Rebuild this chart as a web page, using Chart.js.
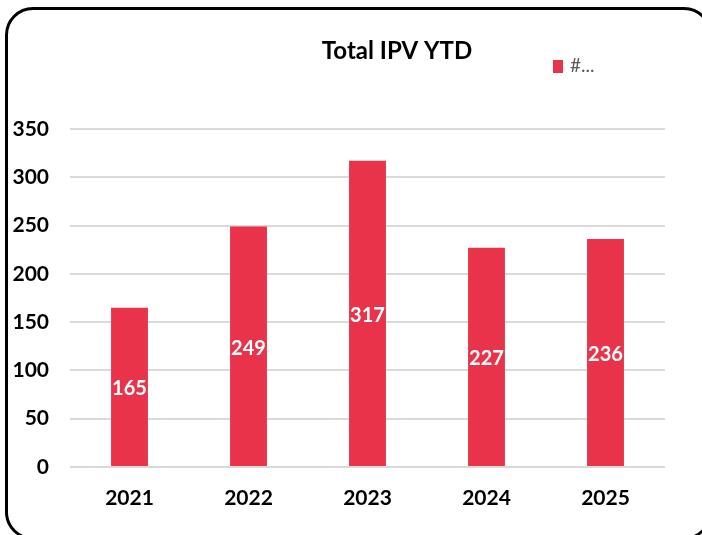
<!DOCTYPE html>
<html>
<head>
<meta charset="utf-8">
<script src="https://cdn.jsdelivr.net/npm/chart.js@4"></script>
<style>
  html, body { margin: 0; padding: 0; background: #fff; }
  #wrap { position: relative; width: 702px; height: 535px; overflow: hidden; }
  #chart { position: absolute; left: 0; top: 0; }
  #frame {
    position: absolute; left: 5px; top: 7px; width: 701px; height: 527px;
    border: 3px solid #000; border-radius: 28px; pointer-events: none;
  }
</style>
</head>
<body>
<div id="wrap">
  <canvas id="chart" width="702" height="535"></canvas>
  <div id="frame"></div>
</div>
<script>
// chart data
const years = ['2021', '2022', '2023', '2024', '2025'];
const ipvCounts = [165, 249, 317, 227, 236];
const yTicks = [0, 50, 100, 150, 200, 250, 300, 350];
const chartTitle = 'Total IPV YTD';
const seriesName = '#...';

const barColor = '#E8334A';
const fontName = 'Lato, "Open Sans", sans-serif';

//draws title, legend and the value labels inside bars
const decorations = {
    id: 'decorations',
    afterDatasetsDraw(chart) {
        const ctx = chart.ctx;
        ctx.save();

        //value labels in the middle of each bar
        const meta = chart.getDatasetMeta(0);
        ctx.fillStyle = '#fff';
        ctx.font = 'bold 20px ' + fontName;
        ctx.textAlign = 'center';
        ctx.textBaseline = 'middle';
        meta.data.forEach((bar, i) => {
            const mid = (bar.y + bar.base) / 2;
            ctx.fillText(chart.data.datasets[0].data[i], bar.x, mid + 2);
        });

        //title
        ctx.fillStyle = '#000';
        ctx.font = 'bold 24px ' + fontName;
        ctx.fillText(chartTitle, 397, 51);

        //legend
        ctx.fillStyle = barColor;
        ctx.fillRect(553, 60, 10, 13);
        ctx.fillStyle = '#595959';
        ctx.font = '19px ' + fontName;
        ctx.textAlign = 'left';
        ctx.fillText(seriesName, 570, 66);

        ctx.restore();
    }
};

const ctx = document.getElementById('chart').getContext('2d');
new Chart(ctx, {
    type: 'bar',
    data: {
        labels: years,
        datasets: [{
            label: seriesName,
            data: ipvCounts,
            backgroundColor: barColor,
            barPercentage: 0.31,
            categoryPercentage: 1
        }]
    },
    options: {
        responsive: false,
        animation: false,
        layout: { padding: { top: 129, right: 37, bottom: 0, left: 0 } },
        plugins: {
            legend: { display: false },
            title: { display: false },
            tooltip: { enabled: false }
        },
        scales: {
            x: {
                grid: { display: false },
                border: { display: false },
                ticks: {
                    color: '#000',
                    font: { family: fontName, size: 21, weight: 'bold' },
                    padding: 11
                },
                afterFit: s => { s.height = 535 - 467; }
            },
            y: {
                min: 0,
                max: 350,
                afterBuildTicks: s => { s.ticks = yTicks.map(v => ({ value: v })); },
                grid: { color: '#D9D9D9', lineWidth: 2, drawTicks: false },
                border: { display: false },
                ticks: {
                    color: '#000',
                    font: { family: fontName, size: 21, weight: 'bold' },
                    padding: 21
                },
                afterFit: s => { s.width = 70; }
            }
        }
    },
    plugins: [decorations]
});
</script>
</body>
</html>
